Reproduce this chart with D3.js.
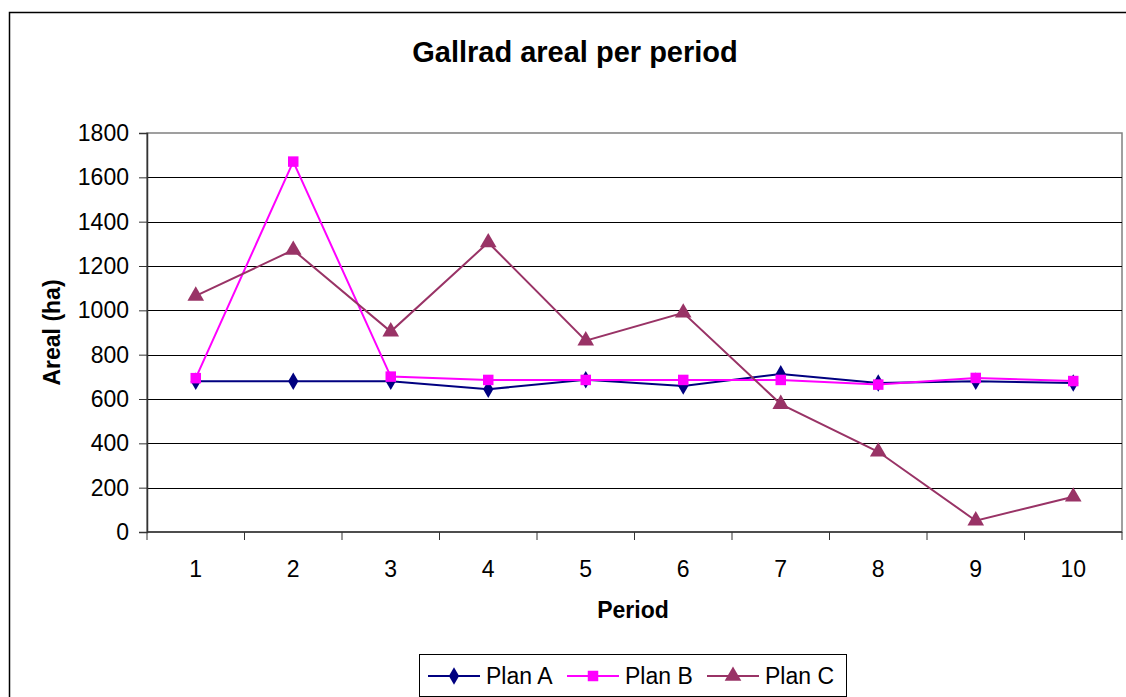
<!DOCTYPE html>
<html>
<head>
<meta charset="utf-8">
<script src="https://cdn.jsdelivr.net/npm/d3@7"></script>
<style>
  body { margin: 0; background: #fff; }
  svg text { font-family: Arial, "Liberation Sans", sans-serif; fill: #000; }
</style>
</head>
<body>
<svg id="chart"></svg>
<script>
// Gallrad areal per period: three plans over 10 periods

const periods = ['1', '2', '3', '4', '5', '6', '7', '8', '9', '10'];
const planA = [680, 680, 680, 644, 687, 659, 713, 672, 680, 672];
const planB = [694, 1671, 701, 686, 686, 686, 686, 665, 695, 681];
const planC = [1065, 1272, 904, 1306, 863, 989, 577, 362, 51, 159];
const yTicks = [0, 200, 400, 600, 800, 1000, 1200, 1400, 1600, 1800];

const seriesList = [
  { name: 'Plan A', values: planA, color: '#000080', symbol: d3.symbolDiamond, size: 90 },
  { name: 'Plan B', values: planB, color: '#FF00FF', symbol: d3.symbolSquare, size: 110 },
  { name: 'Plan C', values: planC, color: '#993366', symbol: d3.symbolTriangle, size: 120 }
];

const W = 1126, H = 697;
const PLOT = { left: 147, top: 133, right: 1122, bottom: 532 };

const svg = d3.select('#chart').attr('width', W).attr('height', H);

// outer chart frame (runs off the right and bottom of the view)
svg.append('rect')
  .attr('x', 9.5).attr('y', 12.5)
  .attr('width', W + 10).attr('height', H + 10)
  .attr('fill', '#fff').attr('stroke', '#000').attr('stroke-width', 1.5);

const xScale = d3.scaleBand().domain(periods).range([PLOT.left, PLOT.right]);
const yScale = d3.scaleLinear().domain([0, 1800]).range([PLOT.bottom, PLOT.top]);

// plot area border
svg.append('rect')
  .attr('x', PLOT.left).attr('y', PLOT.top)
  .attr('width', PLOT.right - PLOT.left).attr('height', PLOT.bottom - PLOT.top)
  .attr('fill', '#fff').attr('stroke', '#808080').attr('stroke-width', 1.5);

// gridlines
svg.append('g')
  .selectAll('line')
  .data(yTicks.filter(t => t > 0 && t < 1800))
  .join('line')
  .attr('x1', PLOT.left).attr('x2', PLOT.right)
  .attr('y1', d => Math.round(yScale(d)) + 0.5)
  .attr('y2', d => Math.round(yScale(d)) + 0.5)
  .attr('stroke', '#000').attr('stroke-width', 1);

// y axis
const yAxis = d3.axisLeft(yScale).tickValues(yTicks).tickFormat(d3.format('d'))
  .tickSize(8).tickPadding(10);
const yAxisG = svg.append('g')
  .attr('transform', `translate(${PLOT.left},0)`)
  .call(yAxis);
yAxisG.select('.domain').attr('stroke', '#333').attr('stroke-width', 1.5);
yAxisG.selectAll('.tick line').attr('stroke', '#333');
yAxisG.selectAll('.tick text').style('font-size', '23px');

// x axis, ticks between categories
const xAxisG = svg.append('g')
  .attr('transform', `translate(0,${PLOT.bottom})`);
xAxisG.append('line')
  .attr('x1', PLOT.left).attr('x2', PLOT.right)
  .attr('stroke', '#333').attr('stroke-width', 1.5);
xAxisG.selectAll('line.sep')
  .data(periods.concat(['end']))
  .join('line')
  .attr('class', 'sep')
  .attr('x1', (d, i) => PLOT.left + i * xScale.step())
  .attr('x2', (d, i) => PLOT.left + i * xScale.step())
  .attr('y1', 0).attr('y2', 8)
  .attr('stroke', '#333');
xAxisG.selectAll('text')
  .data(periods)
  .join('text')
  .attr('x', d => xScale(d) + xScale.bandwidth() / 2)
  .attr('y', 45)
  .attr('text-anchor', 'middle')
  .style('font-size', '23px')
  .text(d => d);

// series
const cx = i => xScale(periods[i]) + xScale.bandwidth() / 2;
const line = d3.line().x((d, i) => cx(i)).y(d => yScale(d));

seriesList.forEach(s => {
  svg.append('path')
    .datum(s.values)
    .attr('fill', 'none')
    .attr('stroke', s.color)
    .attr('stroke-width', 2)
    .attr('d', line);
  svg.append('g')
    .selectAll('path')
    .data(s.values)
    .join('path')
    .attr('transform', (d, i) => `translate(${cx(i)},${yScale(d)})`)
    .attr('d', d3.symbol().type(s.symbol).size(s.size))
    .attr('fill', s.color);
});

// title and axis labels
svg.append('text')
  .attr('x', 575).attr('y', 62)
  .attr('text-anchor', 'middle')
  .style('font-size', '29px').style('font-weight', 'bold')
  .text('Gallrad areal per period');

svg.append('text')
  .attr('transform', 'rotate(-90)')
  .attr('x', -(PLOT.top + PLOT.bottom) / 2)
  .attr('y', 60)
  .attr('text-anchor', 'middle')
  .style('font-size', '23px').style('font-weight', 'bold')
  .text('Areal (ha)');

svg.append('text')
  .attr('x', 633).attr('y', 618)
  .attr('text-anchor', 'middle')
  .style('font-size', '23px').style('font-weight', 'bold')
  .text('Period');

// legend
const legend = svg.append('g');
legend.append('rect')
  .attr('x', 419.5).attr('y', 654.5)
  .attr('width', 427).attr('height', 42)
  .attr('fill', '#fff').attr('stroke', '#000').attr('stroke-width', 1);

const legendX = [428, 567, 707];
seriesList.forEach((s, i) => {
  const g = legend.append('g').attr('transform', `translate(${legendX[i]},676)`);
  g.append('line').attr('x1', 0).attr('x2', 52)
    .attr('stroke', s.color).attr('stroke-width', 2);
  g.append('path')
    .attr('transform', 'translate(26,0)')
    .attr('d', d3.symbol().type(s.symbol).size(s.size))
    .attr('fill', s.color);
  g.append('text')
    .attr('x', 58).attr('y', 8)
    .style('font-size', '23px')
    .text(s.name);
});
</script>
</body>
</html>
